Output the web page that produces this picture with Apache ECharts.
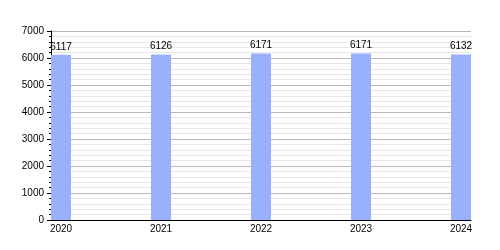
<!DOCTYPE html>
<html><head><meta charset="utf-8">
<script src="https://cdn.jsdelivr.net/npm/echarts@6/dist/echarts.min.js"></script>
<style>html,body{margin:0;padding:0;background:#fff}#c{width:500px;height:250px}</style>
</head><body><div id="c"></div>
<script>
const years = [2020, 2021, 2022, 2023, 2024];
const values = [6117, 6126, 6171, 6171, 6132];
const yTicks = [0, 1000, 2000, 3000, 4000, 5000, 6000, 7000];

const chart = echarts.init(document.getElementById('c'), null, {renderer: 'canvas'});
const font = {fontFamily: 'Liberation Sans, Arial, sans-serif', fontSize: 10, color: '#000'};
chart.setOption({
  animation: false,
  grid: {left: 51, right: 29, top: 31, bottom: 30, containLabel: false},
  xAxis: {
    type: 'value', min: 2019.9, max: 2024.1,
    axisLine: {show: true, lineStyle: {color: '#000', width: 1}},
    axisTick: {show: false},
    splitLine: {show: false},
    axisLabel: Object.assign({customValues: years, margin: 4, formatter: v => String(Math.round(v))}, font)
  },
  yAxis: {
    type: 'value', min: 0, max: 7000, interval: 1000,
    axisLine: {show: true, lineStyle: {color: '#000', width: 1}},
    axisTick: {show: true, length: 4, lineStyle: {color: '#000'}},
    minorTick: {show: true, splitNumber: 5, length: 2, lineStyle: {color: '#000'}},
    splitLine: {show: true, lineStyle: {color: '#b8b8b8', width: 1}},
    minorSplitLine: {show: true, lineStyle: {color: '#e6e6e6', width: 1}},
    axisLabel: Object.assign({margin: 7, formatter: v => yTicks.includes(v) ? String(v) : ''}, font)
  },
  series: [{
    type: 'bar',
    data: years.map((y, i) => [y, values[i]]),
    barWidth: 20,
    itemStyle: {color: '#99b1fd'},
    label: Object.assign({show: true, position: 'top', distance: 3}, font),
    z: 3
  }]
});
</script></body></html>
